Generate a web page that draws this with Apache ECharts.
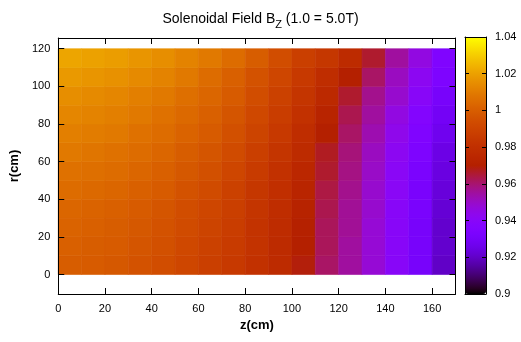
<!DOCTYPE html>
<html>
<head>
<meta charset="utf-8">
<script src="https://cdn.jsdelivr.net/npm/echarts@6/dist/echarts.min.js"></script>
<style>html,body{margin:0;padding:0;background:#fff;}#c{width:521px;height:342px;}</style>
</head>
<body>
<div id="c"></div>
<script>
// Cell edges (cm)
const zEdges = [0,10,20,30,40,50,60,70,80,90,100,110,120,130,140,150,160,170];
const rEdges = [0,10,20,30,40,50,60,70,80,90,100,110,120];
// Bz / 5T, one row per r cell (r = 0-10 first), 17 z cells each
const bz_r0  = [1.000,0.999,0.998,0.996,0.994,0.991,0.988,0.985,0.981,0.977,0.969,0.961,0.955,0.948,0.940,0.931,0.920];
const bz_r10 = [1.001,1.000,0.999,0.997,0.995,0.992,0.989,0.986,0.982,0.977,0.970,0.962,0.955,0.948,0.940,0.931,0.921];
const bz_r20 = [1.002,1.001,1.000,0.998,0.996,0.993,0.990,0.987,0.982,0.978,0.971,0.962,0.956,0.948,0.940,0.931,0.921];
const bz_r30 = [1.003,1.002,1.001,0.999,0.997,0.994,0.991,0.988,0.983,0.979,0.972,0.963,0.956,0.949,0.940,0.932,0.922];
const bz_r40 = [1.005,1.004,1.003,1.001,0.999,0.996,0.993,0.989,0.984,0.980,0.974,0.964,0.957,0.949,0.941,0.932,0.923];
const bz_r50 = [1.007,1.006,1.005,1.003,1.001,0.998,0.995,0.991,0.986,0.981,0.975,0.966,0.958,0.950,0.941,0.933,0.924];
const bz_r60 = [1.009,1.008,1.007,1.005,1.003,1.000,0.997,0.993,0.988,0.983,0.977,0.967,0.959,0.951,0.942,0.934,0.925];
const bz_r70 = [1.011,1.010,1.009,1.007,1.005,1.002,0.999,0.995,0.990,0.985,0.979,0.970,0.961,0.953,0.944,0.935,0.927];
const bz_r80 = [1.013,1.012,1.011,1.009,1.007,1.004,1.001,0.997,0.992,0.987,0.981,0.973,0.963,0.955,0.946,0.937,0.929];
const bz_r90 = [1.015,1.014,1.013,1.011,1.009,1.006,1.003,0.999,0.994,0.989,0.983,0.976,0.966,0.957,0.949,0.940,0.931];
const bz_r100= [1.018,1.017,1.016,1.014,1.012,1.009,1.005,1.001,0.996,0.991,0.985,0.979,0.970,0.961,0.951,0.942,0.934];
const bz_r110= [1.021,1.020,1.019,1.017,1.015,1.012,1.009,1.005,1.000,0.994,0.988,0.984,0.977,0.966,0.955,0.946,0.935];
const bzRows = [bz_r0,bz_r10,bz_r20,bz_r30,bz_r40,bz_r50,bz_r60,bz_r70,bz_r80,bz_r90,bz_r100,bz_r110];

const xTicks = [0,20,40,60,80,100,120,140,160];
const yTicks = [0,20,40,60,80,100,120];
const cbTicks = [0.9,0.92,0.94,0.96,0.98,1.0,1.02,1.04];

// gnuplot default palette (rgbformulae 7,5,15)
function gp(x){
  const r = Math.sqrt(x), g = x*x*x, b = Math.max(0, Math.sin(2*Math.PI*x));
  const h = v => Math.round(Math.min(1,Math.max(0,v))*255).toString(16).padStart(2,'0');
  return '#'+h(r)+h(g)+h(b);
}
const palette = [];
for (let i=0;i<=64;i++) palette.push(gp(i/64));

const data = [];
for (let j=0;j<bzRows.length;j++){
  for (let i=0;i<bzRows[j].length;i++){
    data.push([zEdges[i], rEdges[j], zEdges[i+1], rEdges[j+1], bzRows[j][i]]);
  }
}

const FONT = '"Liberation Sans", Arial, sans-serif';
const chart = echarts.init(document.getElementById('c'), null, {renderer:'canvas'});
const blackLine = {show:true, onZero:false, lineStyle:{color:'#000', width:1}};
const tick = (vals, len) => ({show:true, inside:true, length:len, customValues:vals, lineStyle:{color:'#000', width:1}});
chart.setOption({
  animation:false,
  backgroundColor:'#fff',
  textStyle:{fontFamily:FONT},
  title:{
    left:255.5, top:7, textAlign:'center',
    text:'{a|Solenoidal Field B}{s|Z}{a| (1.0 = 5.0T)}',
    textStyle:{
      fontWeight:'normal',
      rich:{
        a:{fontSize:14, fontWeight:'normal', fontFamily:FONT, color:'#000', lineHeight:16, verticalAlign:'top'},
        s:{fontSize:11, fontWeight:'normal', fontFamily:FONT, color:'#000', lineHeight:13, padding:[7,0,0,0], verticalAlign:'top'}
      }
    }
  },
  grid:[
    {left:55, top:38, width:400.5, height:256, containLabel:false},
    {left:465, top:37, width:21, height:257, containLabel:false}
  ],
  xAxis:[
    {type:'value', gridIndex:0, position:'bottom', min:0, max:170, z:10,
     name:'z(cm)', nameLocation:'middle', nameGap:25,
     nameTextStyle:{fontSize:13, fontWeight:'bold', color:'#000', fontFamily:FONT},
     axisLine:blackLine, splitLine:{show:false},
     axisTick:tick(xTicks, 6),
     axisLabel:{show:true, customValues:xTicks, fontSize:11, color:'#000', margin:9, fontFamily:FONT}},
    {type:'value', gridIndex:0, position:'top', min:0, max:170, z:10,
     axisLine:blackLine, splitLine:{show:false},
     axisTick:tick(xTicks, 6), axisLabel:{show:false}},
    {type:'value', gridIndex:1, position:'bottom', min:0, max:1, z:10,
     axisLine:blackLine, splitLine:{show:false}, axisTick:{show:false}, axisLabel:{show:false}},
    {type:'value', gridIndex:1, position:'top', min:0, max:1, z:10,
     axisLine:blackLine, splitLine:{show:false}, axisTick:{show:false}, axisLabel:{show:false}}
  ],
  yAxis:[
    {type:'value', gridIndex:0, position:'left', min:-10.35, max:125.7, z:10,
     name:'r(cm)', nameLocation:'middle', nameGap:30, nameRotate:90,
     nameTextStyle:{fontSize:13, fontWeight:'bold', color:'#000', fontFamily:FONT},
     axisLine:blackLine, splitLine:{show:false},
     axisTick:tick(yTicks, 6),
     axisLabel:{show:true, customValues:yTicks, fontSize:11, color:'#000', margin:8, fontFamily:FONT}},
    {type:'value', gridIndex:0, position:'right', min:-10.35, max:125.7, z:10,
     axisLine:blackLine, splitLine:{show:false},
     axisTick:tick(yTicks, 6), axisLabel:{show:false}},
    {type:'value', gridIndex:1, position:'right', min:0.9, max:1.04, z:10,
     axisLine:blackLine, splitLine:{show:false},
     axisTick:tick(cbTicks, 4),
     axisLabel:{show:true, customValues:cbTicks, fontSize:11, color:'#000', margin:9, fontFamily:FONT}},
    {type:'value', gridIndex:1, position:'left', min:0.9, max:1.04, z:10,
     axisLine:blackLine, splitLine:{show:false},
     axisTick:tick(cbTicks, 4), axisLabel:{show:false}}
  ],
  visualMap:{
    type:'continuous', min:0.9, max:1.04, dimension:4, seriesIndex:0,
    orient:'vertical', left:465, top:37, itemWidth:21, itemHeight:257,
    padding:0, calculable:false, realtime:false, hoverLink:false,
    inRange:{color:palette}, text:null, showLabel:false
  },
  series:[{
    type:'custom', xAxisIndex:0, yAxisIndex:0, z:1,
    encode:{x:[0,2], y:[1,3]},
    data:data,
    renderItem:function(params, api){
      const p0 = api.coord([api.value(0), api.value(1)]);
      const p1 = api.coord([api.value(2), api.value(3)]);
      const c = api.visual('color');
      return {type:'rect',
        shape:{x:p0[0], y:p1[1], width:p1[0]-p0[0], height:p0[1]-p1[1]},
        style:{fill:c, stroke:c, lineWidth:0.6}};
    }
  }]
});
</script>
</body>
</html>
